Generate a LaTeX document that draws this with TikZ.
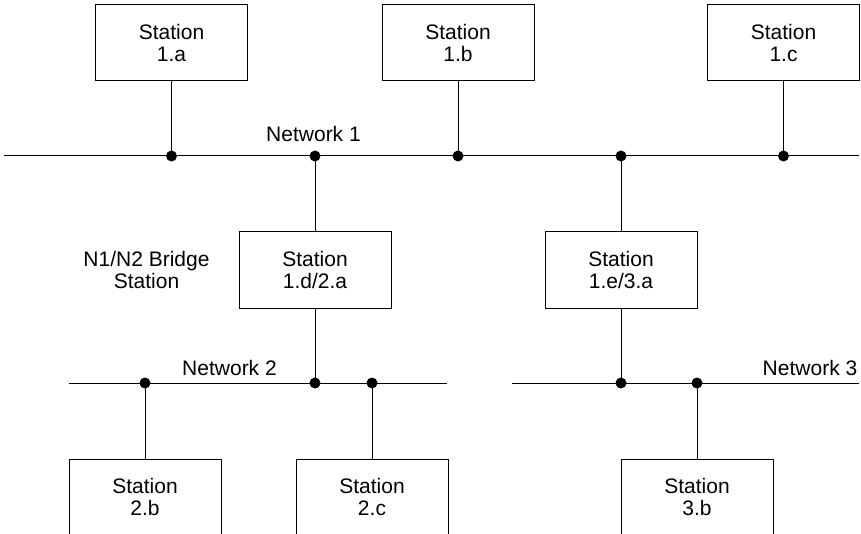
\documentclass[tikz,border=0pt]{standalone}
\usepackage{fontspec}
\setmainfont{Liberation Sans}
\begin{document}
\begin{tikzpicture}[x=1pt,y=-1pt,
  line width=1pt,
  stationbox/.style={draw, rectangle, minimum width=152pt, minimum height=76pt, inner sep=0pt, align=center, font=\fontsize{21}{22}\selectfont},
  lbl/.style={inner sep=0pt, align=center, font=\fontsize{21}{22}\selectfont},
  dot/.style={circle, fill, inner sep=0pt, minimum size=11pt}]
\useasboundingbox (0,0) rectangle (861,534);
% stations
\node[stationbox] (s1a) at (171.5,43) {Station\\1.a};
\node[stationbox] (s1b) at (458,43) {Station\\1.b};
\node[stationbox] (s1c) at (783.5,43) {Station\\1.c};
\node[stationbox] (s1d) at (315,270) {Station\\1.d/2.a};
\node[stationbox] (s1e) at (621,270) {Station\\1.e/3.a};
\node[stationbox] (s2b) at (145,497) {Station\\2.b};
\node[stationbox] (s2c) at (372,497) {Station\\2.c};
\node[stationbox] (s3b) at (697,497) {Station\\3.b};
% network endpoints
\coordinate (n1w) at (4,156);
\coordinate (n1e) at (859,156);
\coordinate (n2w) at (69,383);
\coordinate (n2e) at (447,383);
\coordinate (n3w) at (512,383);
\coordinate (n3e) at (859,383);
\draw (n1w) -- (n1e);
\draw (n2w) -- (n2e);
\draw (n3w) -- (n3e);
% taps
\node[dot] (d1a) at (171.5,156) {};
\node[dot] (d1d) at (315,156) {};
\node[dot] (d1b) at (458,156) {};
\node[dot] (d1e) at (621,156) {};
\node[dot] (d1c) at (783.5,156) {};
\node[dot] (d2b) at (145,383) {};
\node[dot] (d2a) at (315,383) {};
\node[dot] (d2c) at (372,383) {};
\node[dot] (d3a) at (621,383) {};
\node[dot] (d3b) at (697,383) {};
% connectors
\draw (s1a.south) -- (d1a.center);
\draw (s1b.south) -- (d1b.center);
\draw (s1c.south) -- (d1c.center);
\draw (d1d.center) -- (s1d.north);
\draw (d1e.center) -- (s1e.north);
\draw (s1d.south) -- (d2a.center);
\draw (s1e.south) -- (d3a.center);
\draw (d2b.center) -- (s2b.north);
\draw (d2c.center) -- (s2c.north);
\draw (d3b.center) -- (s3b.north);
% labels
\node[lbl] (l1) at (313.5,134) {Network 1};
\node[lbl] (l2) at (229.5,368) {Network 2};
\node[lbl] (l3) at (810,368) {Network 3};
\node[lbl] (lb) at (146.5,270) {N1/N2 Bridge\\Station};
\end{tikzpicture}
\end{document}
